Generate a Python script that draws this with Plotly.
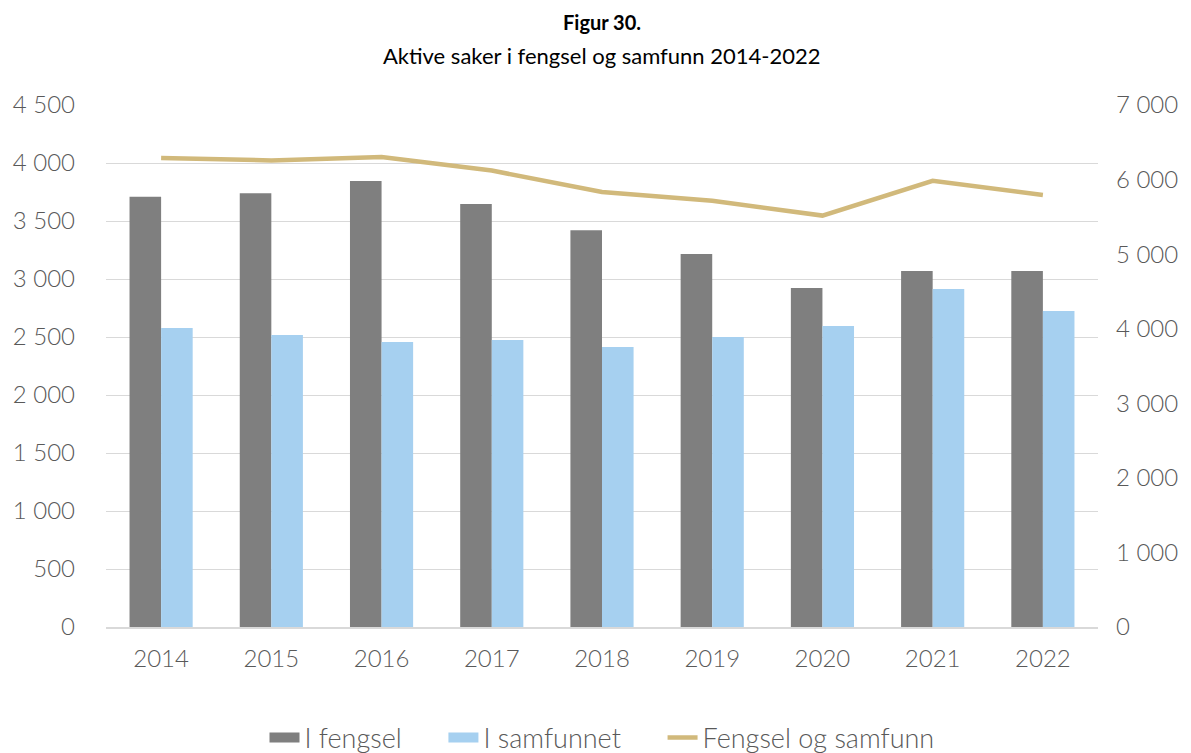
import plotly.graph_objects as go

years = ["2014", "2015", "2016", "2017", "2018", "2019", "2020", "2021", "2022"]
i_fengsel = [3710, 3740, 3845, 3647, 3420, 3215, 2922, 3069, 3069]
i_samfunnet = [2578, 2517, 2457, 2474, 2414, 2500, 2595, 2914, 2724]
fengsel_og_samfunn = [6288, 6257, 6302, 6121, 5834, 5715, 5517, 5983, 5793]

left_ticks = [0, 500, 1000, 1500, 2000, 2500, 3000, 3500, 4000, 4500]
right_ticks = [0, 1000, 2000, 3000, 4000, 5000, 6000, 7000]

FONT = "Lato"
TXT = "#595959"
GRAY = "#7f7f7f"
BLUE = "#a6d0f0"
GOLD = "#d1b97b"

# the page body has an 8px margin; figure is sized so that it fills the window
W, H = 1183, 745
L, R, T, B = 98, 93, 97, 126
PH = H - T - B
GAP = "\u00a0" * 5


def py(pix):
    """figure pixel y (from top) -> paper coordinate"""
    return (H - B - pix) / PH


fig = go.Figure()
fig.add_trace(go.Bar(x=years, y=i_fengsel, name="I fengsel", marker_color=GRAY,
                     marker_line_width=0, showlegend=False))
fig.add_trace(go.Bar(x=years, y=i_samfunnet, name="I samfunnet", marker_color=BLUE,
                     marker_line_width=0, showlegend=False))
fig.add_trace(go.Scatter(x=years, y=fengsel_og_samfunn, name="Fengsel og samfunn",
                         mode="lines", line=dict(color=GOLD, width=4.5), yaxis="y2",
                         showlegend=False))
# legend entries (wide rectangles like the reference)
fig.add_trace(go.Scatter(x=[None], y=[None], mode="lines", name="I fengsel" + GAP,
                         line=dict(color=GRAY, width=14)))
fig.add_trace(go.Scatter(x=[None], y=[None], mode="lines", name="I samfunnet" + GAP,
                         line=dict(color=BLUE, width=14)))
fig.add_trace(go.Scatter(x=[None], y=[None], mode="lines", name="Fengsel og samfunn",
                         line=dict(color=GOLD, width=4.5)))

tickfont = dict(family=FONT, size=24, color=TXT, weight=300)

fig.update_layout(
    width=W, height=H,
    paper_bgcolor="white", plot_bgcolor="white",
    separators=", ",
    font=dict(family=FONT, color=TXT, size=24, weight=300),
    margin=dict(l=L, r=R, t=T, b=B, autoexpand=False),
    barmode="group", bargap=0.427, bargroupgap=0.0,
    xaxis=dict(showgrid=False, showline=True, linecolor="#d9d9d9", linewidth=1.5,
               ticks="", tickfont=tickfont, automargin=False, ticklabelstandoff=9),
    yaxis=dict(range=[0, 4500], tickvals=left_ticks, tickformat=",d",
               showgrid=True, gridcolor="#d9d9d9", gridwidth=1.2,
               zeroline=False, showline=False, ticks="", ticklabelstandoff=30,
               tickfont=tickfont, automargin=False),
    yaxis2=dict(range=[0, 7000], tickvals=right_ticks, tickformat=",d",
                overlaying="y", side="right", showgrid=False, zeroline=False,
                showline=False, ticks="", tickfont=tickfont, automargin=False,
                ticklabelstandoff=17),
    legend=dict(orientation="h", x=0.5, xanchor="center", y=py(730), yanchor="middle",
                font=dict(family=FONT, size=27, color=TXT, weight=300),
                traceorder="normal", itemwidth=30, tracegroupgap=0),
    annotations=[
        dict(text="<b>Figur 30.</b>", x=0.5, xref="paper", y=py(14), yref="paper",
             xanchor="center", yanchor="middle", showarrow=False,
             font=dict(family=FONT, size=20, color="black", weight=700)),
        dict(text="Aktive saker i fengsel og samfunn 2014-2022", x=0.5, xref="paper",
             y=py(47), yref="paper", xanchor="center", yanchor="middle", showarrow=False,
             font=dict(family=FONT, size=22, color="black", weight=400)),
    ],
)

fig.write_html("out.html")
